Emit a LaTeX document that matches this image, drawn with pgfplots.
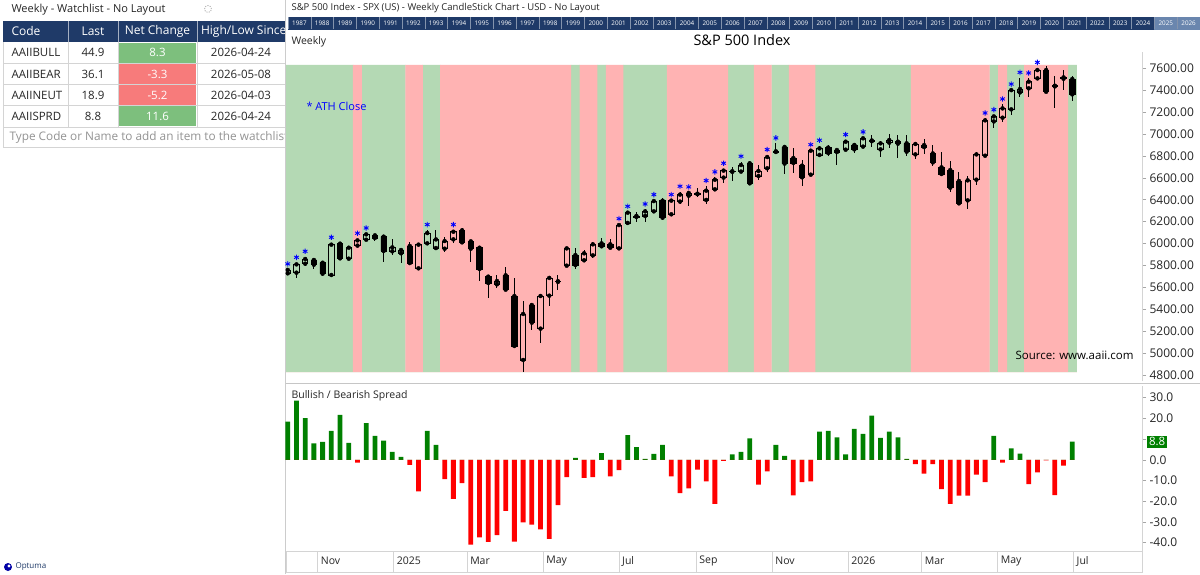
\documentclass[border=0pt]{standalone}
\usepackage{pgfplots}
\pgfplotsset{compat=1.18}
\usepackage{pgfplotstable}
\usepackage{fontspec}
\setmainfont{Open Sans}
\definecolor{navy}{HTML}{1F3A68}
\definecolor{navylight}{HTML}{6A86AE}
\definecolor{shG}{HTML}{B4D9B4}
\definecolor{shR}{HTML}{FFB3B3}
\definecolor{spG}{HTML}{008000}
\definecolor{spR}{HTML}{FF0000}
\definecolor{cellG}{HTML}{7DBF7D}
\definecolor{cellR}{HTML}{F77B7B}
\definecolor{txt}{HTML}{262626}
\definecolor{border}{HTML}{D4D4D4}
\newcommand\hdr{\fontsize{12}{14}\selectfont}
\newcommand\cel{\fontsize{11.5}{13}\selectfont}

\pgfplotstableread{
i O H L C S
0 5728 5765 5720 5759 18.5
1 5734 5825 5682 5810 28.6
2 5816 5880 5798 5859 20.1
3 5850 5862 5765 5807 7.9
4 5825 5835 5704 5725 8.7
5 5713 6008 5692 5990 14.0
6 5999 6008 5850 5865 21.7
7 5862 5966 5856 5962 8.2
8 5981 6045 5965 6029 -1.3
9 6035 6093 6026 6084 17.7
10 6075 6091 6026 6051 11.6
11 6063 6075 5829 5932 9.3
12 5929 6042 5899 5965 3.9
13 5911 5941 5825 5941 1.4
14 5978 6011 5804 5822 -2.4
15 5774 5999 5765 5990 -15.2
16 6002 6124 5996 6096 14.0
17 5959 6124 5953 6038 7.2
18 5953 6057 5926 6023 -9.3
19 6038 6124 6002 6108 -18.8
20 6121 6142 6002 6011 -11.2
21 6020 6032 5835 5953 -40.9
22 5962 5975 5661 5768 -37.4
23 5698 5704 5500 5640 -39.6
24 5628 5710 5591 5658 -36.3
25 5710 5783 5573 5579 -24.6
26 5521 5689 5059 5065 -39.5
27 4937 5476 4830 5357 -30.2
28 5439 5454 5211 5278 -31.3
29 5223 5521 5095 5521 -33.5
30 5524 5695 5430 5686 -38.2
31 5650 5713 5576 5656 -21.8
32 5798 5962 5783 5956 -8.3
33 5895 5962 5768 5804 1.0
34 5847 5941 5844 5911 -8.7
35 5892 6011 5865 5993 -8.3
36 6002 6051 5956 5975 3.2
37 5993 6038 5950 5962 -8.0
38 5956 6178 5941 6169 -5.0
39 6188 6291 6178 6282 11.9
40 6243 6291 6200 6252 6.1
41 6252 6312 6200 6294 0.5
42 6294 6398 6282 6388 2.9
43 6391 6419 6215 6236 7.2
44 6267 6398 6258 6392 -8.0
45 6383 6474 6361 6447 -16.1
46 6437 6468 6343 6462 -13.8
47 6451 6504 6428 6455 -4.7
48 6398 6526 6361 6483 -10.4
49 6495 6605 6483 6583 -21.2
50 6602 6684 6556 6666 -0.5
51 6655 6702 6571 6660 2.6
52 6657 6748 6641 6717 3.9
53 6733 6757 6547 6550 10.4
54 6617 6714 6580 6663 -12.0
55 6687 6809 6657 6790 -5.6
56 6836 6915 6818 6842 7.2
57 6882 6885 6635 6730 1.9
58 6781 6869 6647 6736 -17.2
59 6711 6763 6526 6605 -10.8
60 6629 6854 6626 6848 -10.4
61 6809 6894 6803 6869 13.6
62 6876 6900 6803 6827 14.0
63 6854 6854 6720 6836 10.9
64 6857 6946 6848 6930 2.7
65 6900 6918 6824 6860 14.9
66 6885 6970 6879 6961 12.5
67 6935 6991 6879 6941 21.3
68 6860 6936 6793 6915 10.6
69 6921 6997 6875 6945 13.6
70 6912 6991 6778 6930 10.9
71 6915 6991 6799 6839 0.5
72 6814 6924 6772 6909 -2.1
73 6899 6951 6814 6881 -6.6
74 6823 6899 6708 6741 -2.1
75 6696 6839 6626 6635 -14.1
76 6671 6753 6473 6510 -21.2
77 6571 6650 6352 6367 -17.3
78 6394 6619 6315 6577 -17.3
79 6583 6839 6534 6814 -7.1
80 6802 7143 6796 7125 -10.8
81 7115 7173 7052 7161 11.6
82 7149 7271 7112 7234 -1.3
83 7225 7407 7173 7401 5.6
84 7380 7514 7341 7411 3.0
85 7417 7508 7338 7478 -11.7
86 7508 7605 7502 7584 -6.1
87 7584 7621 7371 7386 -0.3
88 7441 7532 7240 7435 -17.0
89 7517 7584 7405 7505 -2.8
90 7502 7529 7301 7362 8.8
}\data

\pgfplotstableread{
i H
0 5765
1 5825
2 5880
5 6008
8 6045
9 6093
16 6124
19 6124
38 6178
39 6291
41 6312
42 6398
44 6398
45 6474
46 6468
48 6526
49 6605
50 6684
52 6748
55 6809
56 6915
60 6854
61 6894
64 6946
66 6970
80 7143
81 7173
82 7271
83 7407
84 7514
85 7508
86 7605
}\stars

\begin{document}
\begin{tikzpicture}[x=1pt,y=1pt]
\path[use as bounding box] (0,0) rectangle (1200,574);
\fill[white] (0,0) rectangle (1200,574);

% ---------------- left watchlist panel ----------------
\node[anchor=west, font=\fontsize{11}{13}\selectfont, text=txt] at (8,564) {Weekly - Watchlist - No Layout};
\draw[gray!55, line width=0.9pt, dash pattern=on 1.2pt off 1.2pt] (208,565) circle (3.5);
\begin{scope}
\clip (0,0) rectangle (285,574);
\fill[navy] (3,532) rectangle (285,553);
\foreach \xx in {68,118,197} \draw[white!60!navy, line width=0.6pt] (\xx,532) -- (\xx,553);
\node[text=white, anchor=west, font=\hdr] at (8,542.5) {Code};
\node[text=white, font=\hdr] at (93,542.5) {Last};
\node[text=white, font=\hdr] at (157.5,542.5) {Net Change};
\node[text=white, anchor=west, font=\hdr] at (197.5,542.5) {High/Low Since};
\fill[cellG] (118.8,511.3) rectangle (196.2,531.2);
\fill[cellR] (118.8,490.3) rectangle (196.2,509.7);
\fill[cellR] (118.8,469.3) rectangle (196.2,488.7);
\fill[cellG] (118.8,447.8) rectangle (196.2,467.7);
\foreach \yy in {510.5,489.5,468.5,447,427} \draw[border, line width=0.7pt] (3,\yy) -- (285,\yy);
\foreach \xx in {3,68,118,197} \draw[border, line width=0.7pt] (\xx,447) -- (\xx,532);
\draw[border, line width=0.7pt] (3,427) -- (3,447);
\foreach \nm/\la/\nc/\dt/\yy in {AAIIBULL/44.9/8.3/2026-04-24/521.2, AAIIBEAR/36.1/-3.3/2026-05-08/500, AAIINEUT/18.9/-5.2/2026-04-03/479, AAIISPRD/8.8/11.6/2026-04-24/457.8}{
  \node[anchor=west, font=\cel, text=txt] at (8,\yy) {\nm};
  \node[font=\cel, text=txt] at (93,\yy) {\la};
  \node[font=\cel, text=white] at (157.5,\yy) {\nc};
  \node[font=\cel, text=txt] at (241,\yy) {\dt};
}
\node[anchor=west, font=\fontsize{11.8}{13}\selectfont, text=gray!85] at (6,437) {Type Code or Name to add an item to the watchlist};
\end{scope}
\draw[gray!40, line width=0.8pt] (285.5,0) -- (285.5,574);
\fill[blue!65!black] (8,7) circle (4);
\fill[white] (9,8) circle (1.6);
\node[anchor=west, font=\fontsize{8}{9}\selectfont, text=navy] at (12,7) {Optuma};

% ---------------- chart header ----------------
\node[anchor=west, font=\fontsize{9.5}{11}\selectfont, text=txt] at (288,566) {S\&P 500 Index - SPX (US) - Weekly CandleStick Chart - USD - No Layout};
\fill[navy] (288,544) rectangle (1200,557);
\foreach \k in {0,...,39} {
  \pgfmathsetmacro\xa{288+\k*22.8}
  \pgfmathtruncatemacro\yr{1987+\k}
  \ifnum\k>37 \fill[navylight] (\xa,544) rectangle ({\xa+22.8},557); \fi
  \draw[white!45!navy, line width=0.4pt] (\xa,544.5) -- (\xa,556.5);
  \node[text=white, font=\fontsize{6.3}{7}\selectfont, inner sep=0pt] at ({\xa+11.4},550.3) {\yr};
}
\node[anchor=west, font=\fontsize{10.5}{12}\selectfont, text=txt] at (288,532) {Weekly};
\node[font=\fontsize{14.5}{16}\selectfont, text=black] at (742,534) {S\&P 500 Index};
\draw[gray!45, line width=0.8pt] (286,191) -- (1200,191);

% ---------------- shading axis ----------------
\begin{axis}[at={(286pt,202pt)}, anchor=south west, scale only axis,
  width=856pt, height=307pt, xmin=-0.2, xmax=98, ymin=0, ymax=1,
  axis lines=none, ticks=none]
\addplot[ybar, bar width=1.03, bar shift=0pt, fill=shG, draw=none]
  table[x=i, y expr={\thisrow{S}>0}] {\data};
\addplot[ybar, bar width=1.03, bar shift=0pt, fill=shR, draw=none]
  table[x=i, y expr={\thisrow{S}<0}] {\data};
\end{axis}

% ---------------- price axis: wicks, stars, ticks ----------------
\begin{axis}[at={(286pt,193pt)}, anchor=south west, scale only axis,
  width=856pt, height=329pt, xmin=-0.2, xmax=98, ymin=4745, ymax=7749,
  axis x line=none, axis y line*=right,
  axis line style={draw=border, line width=0.8pt},
  ytick={4800,5000,...,7600}, scaled y ticks=false,
  tick align=outside, major tick length=4pt,
  ytick style={draw=gray!70, line width=0.6pt},
  yticklabel style={font=\fontsize{12}{13}\selectfont, text=txt,
    /pgf/number format/fixed, /pgf/number format/fixed zerofill,
    /pgf/number format/precision=2, /pgf/number format/1000 sep={},
    /pgf/number format/assume math mode=true}]
\addplot[only marks, mark=none, black,
  error bars/.cd, y dir=plus, y explicit, error mark=none,
  error bar style={line width=1.0pt, black}]
  table[x=i, y expr={max(\thisrow{O},\thisrow{C})},
        y error plus expr={\thisrow{H}-max(\thisrow{O},\thisrow{C})}] {\data};
\addplot[only marks, mark=none, black,
  error bars/.cd, y dir=minus, y explicit, error mark=none,
  error bar style={line width=1.0pt, black}]
  table[x=i, y expr={min(\thisrow{O},\thisrow{C})},
        y error minus expr={min(\thisrow{O},\thisrow{C})-\thisrow{L}}] {\data};
\addplot[only marks, mark=asterisk, mark size=2.7pt, color=blue,
  mark options={yshift=5.4pt, line width=0.9pt}] table[x=i, y=H] {\stars};
\end{axis}
\node[anchor=west, font=\fontsize{11}{13}\selectfont, text=blue] at (303,468) {* ATH Close};
\node[anchor=west, font=\fontsize{11.5}{13}\selectfont, text=black] at (1012,219) {Source: www.aaii.com};

% ---------------- candle bodies (stacked) ----------------
\begin{axis}[at={(286pt,193pt)}, anchor=south west, scale only axis,
  width=856pt, height=329pt, xmin=-0.2, xmax=98, ymin=4745, ymax=7749,
  axis lines=none, ticks=none, ybar stacked, bar width=0.62]
\addplot[draw=none, fill=none] table[x=i, y expr={min(\thisrow{O},\thisrow{C})}] {\data};
\addplot[draw=black, fill=black, line width=0.8pt] table[x=i, y expr={max(\thisrow{O}-\thisrow{C},0)}] {\data};
\addplot[draw=black, fill=none, line width=0.8pt] table[x=i, y expr={max(\thisrow{C}-\thisrow{O},0)}] {\data};
\end{axis}

% ---------------- spread axis ----------------
\begin{axis}[at={(286pt,23pt)}, anchor=south west, scale only axis,
  width=856pt, height=165pt, xmin=-0.2, xmax=98, ymin=-44, ymax=35.65,
  axis x line=none, axis y line*=right, clip=false,
  axis line style={draw=border, line width=0.8pt},
  ytick={-40,-30,...,30}, 
  yticklabels={-40.0,-30.0,-20.0,-10.0,0.0,{},20.0,30.0},
  tick align=outside, major tick length=4pt,
  ytick style={draw=gray!70, line width=0.6pt},
  yticklabel style={font=\fontsize{12}{13}\selectfont, text=txt}]
\addplot[ybar, bar width=0.55, bar shift=0pt, fill=spG, draw=none]
  table[x=i, y expr={max(\thisrow{S},0)}] {\data};
\addplot[ybar, bar width=0.55, bar shift=0pt, fill=spR, draw=none]
  table[x=i, y expr={min(\thisrow{S},0)}] {\data};
\node[anchor=west, fill=spG, text=white, inner sep=1.8pt,
  font=\fontsize{11.5}{13}\selectfont] at (axis cs:98,8.8) [xshift=5pt] {8.8};
\end{axis}
\node[anchor=west, font=\fontsize{10.5}{12}\selectfont, text=txt] at (288,178) {Bullish / Bearish Spread};

% ---------------- date strip ----------------
\begin{axis}[at={(286pt,2pt)}, anchor=south west, scale only axis,
  width=856pt, height=21pt, xmin=-0.2, xmax=98, ymin=0, ymax=1,
  axis line style={draw=border, line width=0.8pt}, ytick=\empty,
  xtick={3.45,12.16,20.59,29.31,38.02,46.88,55.59,64.31,72.74,81.45,90.16},
  xticklabels={Nov,2025,Mar,May,Jul,Sep,Nov,2026,Mar,May,Jul},
  xmajorgrids, grid style={draw=border, line width=0.8pt}, major tick length=0pt,
  xticklabel style={anchor=west, xshift=-0.5pt, yshift=11pt,
    font=\fontsize{10.5}{12}\selectfont, text=txt}]
\addplot[draw=none] coordinates {(0,0.5)};
\end{axis}
\end{tikzpicture}
\end{document}
